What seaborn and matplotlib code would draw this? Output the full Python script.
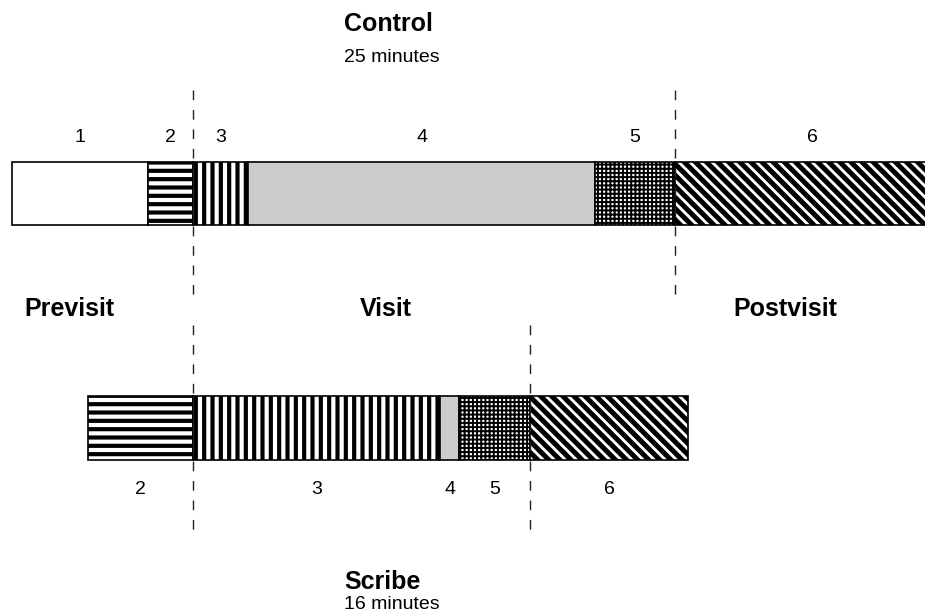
import matplotlib
matplotlib.use("Agg")
import matplotlib.pyplot as plt
import seaborn as sns
import numpy as np

sns.set_theme(style="white")
plt.rcParams['font.family'] = ['Liberation Sans', 'DejaVu Sans']
plt.rcParams['text.color'] = 'black'

# ---- data (minutes) ----
segment_ids = ["1", "2", "3", "4", "5", "6"]
control_minutes = [3.63, 1.20, 1.47, 9.25, 2.13, 7.32]   # total 25
scribe_ids = ["2", "3", "4", "5", "6"]
scribe_minutes = [2.80, 6.59, 0.51, 1.89, 4.21]          # total 16
control_total_label = "25 minutes"
scribe_total_label = "16 minutes"
phase_labels = ["Previsit", "Visit", "Postvisit"]

# ---- styles per segment id ----
styles = {
    "1": dict(fc="white", hatch=None, hlw=1.0),
    "2": dict(fc="white", hatch="--", hlw=3.0),
    "3": dict(fc="white", hatch="||", hlw=3.0),
    "4": dict(fc="#cccccc", hatch=None, hlw=1.0),
    "5": dict(fc="white", hatch="++++", hlw=1.4),
    "6": dict(fc="white", hatch="\\\\\\", hlw=3.6),
}

fig = plt.figure(figsize=(9.25, 6.13), dpi=100)
ax = fig.add_axes([0, 0, 1, 1])

px_per_min = 37.5
x0_px = 12
ax.set_xlim(-x0_px / px_per_min, (925 - x0_px) / px_per_min)
# y: control at 0, scribe at 1
ax.set_ylim(1 + (613 - 428) / 234.5, -193.5 / 234.5)
ax.axis("off")

bar_h = 0.27

def draw_bar(ypos, ids, mins, start):
    left = start
    centers = []
    for sid, m in zip(ids, mins):
        st = styles[sid]
        with plt.rc_context({"hatch.linewidth": st["hlw"], "hatch.color": "black"}):
            bars = ax.barh(ypos, m, left=left, height=bar_h, color=st["fc"],
                           edgecolor="black", linewidth=1.2, hatch=st["hatch"])
        for b in bars:
            if hasattr(b, "set_hatch_linewidth"):
                b.set_hatch_linewidth(st["hlw"])
        centers.append(left + m / 2)
        left += m
    return centers

control_pre = sum(control_minutes[:2])
scribe_start = control_pre - scribe_minutes[0]

c_centers = draw_bar(0, segment_ids, control_minutes, 0.0)
s_centers = draw_bar(1, scribe_ids, scribe_minutes, scribe_start)

# phase boundaries
c_visit_start = control_pre
c_visit_end = sum(control_minutes[:5])
s_visit_start = scribe_start + scribe_minutes[0]
s_visit_end = scribe_start + sum(scribe_minutes[:4])

dash = dict(color="#222222", lw=1.0, linestyle=(0, (7, 7)))
for xv in (c_visit_start, c_visit_end):
    ax.plot([xv, xv], [-0.44, 0.445], **dash)
for xv in (s_visit_start, s_visit_end):
    ax.plot([xv, xv], [1 - 0.44, 1 + 0.445], **dash)

# segment labels
for sid, cx in zip(segment_ids, c_centers):
    ax.text(cx, -0.237, sid, ha="center", va="center", fontsize=14)
for sid, cx in zip(scribe_ids, s_centers):
    ax.text(cx, 1.264, sid, ha="center", va="center", fontsize=14)

# titles
title_x = (344 - x0_px) / px_per_min
ax.text(title_x, -0.723, "Control", ha="left", va="center", fontsize=18, fontweight="bold")
ax.text(title_x, -0.582, control_total_label, ha="left", va="center", fontsize=14)
ax.text(title_x, 1.655, "Scribe", ha="left", va="center", fontsize=18, fontweight="bold")
ax.text(title_x, 1.752, scribe_total_label, ha="left", va="center", fontsize=14)

# phase labels
phase_x = [(69 - x0_px) / px_per_min, (386 - x0_px) / px_per_min, (785 - x0_px) / px_per_min]
for lab, xv in zip(phase_labels, phase_x):
    ax.text(xv, 0.492, lab, ha="center", va="center", fontsize=18, fontweight="bold")

fig.savefig("out.png", dpi=100, facecolor="white")
